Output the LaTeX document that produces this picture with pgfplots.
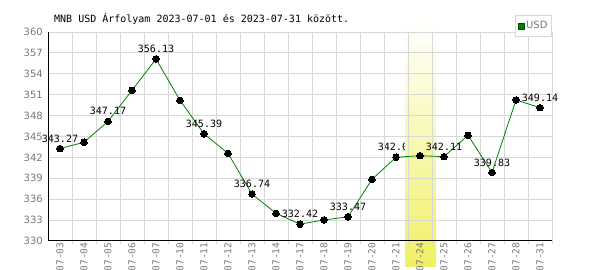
\documentclass[border=0pt]{standalone}
\usepackage{fontspec}
\setmainfont{DejaVu Sans}
\newfontfamily\mono{DejaVu Sans Mono}
\usepackage{pgfplots}
\pgfplotsset{compat=1.18}
\definecolor{gridc}{RGB}{216,216,216}
\definecolor{tickc}{RGB}{120,120,120}
\definecolor{lineg}{RGB}{0,128,0}
\definecolor{bandy}{RGB}{240,240,100}
\pgfplotsset{layers/mylayers/.define layer set={axis background,axis grid,axis ticks,mylabels,pre main,axis lines,axis tick labels,main,axis descriptions,axis foreground}{}}
\begin{document}
\begin{tikzpicture}
\begin{axis}[
  set layers=mylayers,
  at={(48bp,29bp)}, anchor=south west,
  scale only axis, width=504bp, height=209bp,
  xmin=-0.5, xmax=20.5, ymin=330, ymax=360,
  clip=false,
  axis lines=left, axis line style={-, black, line width=1bp},
  xtick={0,...,20},
  xticklabels={07-03,07-04,07-05,07-06,07-07,07-10,07-11,07-12,07-13,07-14,07-17,07-18,07-19,07-20,07-21,07-24,07-25,07-26,07-27,07-28,07-31},
  minor xtick={0.5,1.5,...,20.5},
  ytick={330,333,...,360},
  xmajorgrids=false, xminorgrids=true, ymajorgrids=true,
  grid style={gridc, line width=1bp},
  minor grid style={gridc, line width=1bp},
  major tick length=0pt, minor tick length=3bp, tick align=outside,
  minor tick style={gridc, line width=1bp},
  /pgf/number format/assume math mode=true,
  x tick label style={rotate=90, anchor=east, font=\mono\fontsize{9.5bp}{11bp}\selectfont, text=tickc, inner sep=1.5bp},
  y tick label style={font=\fontsize{10bp}{12bp}\selectfont, text=tickc, inner sep=0pt, xshift=-5bp},
  legend style={at={(1,1.081)}, anchor=north east, draw=gridc, line width=1bp, fill=white,
    font=\fontsize{10bp}{12bp}\selectfont, text=tickc, inner xsep=2bp, inner ysep=4bp},
  legend cell align=left,
  lab/.style={draw=none, forget plot, nodes near coords, point meta=explicit symbolic,
    nodes near coords style={font=\mono\fontsize{10bp}{12bp}\selectfont, text=black, anchor=base, yshift=6.5bp, inner sep=0pt}},
]
\addplot[forget plot, on layer=pre main, draw=none, top color=white, bottom color=bandy]
 coordinates {(14.375,326.27) (15.67,326.27) (15.67,361.58) (14.375,361.58)} -- cycle;
% label of 07-21 lies partly under the highlight band
\addplot[lab, on layer=mylabels, mark layer=mylabels]
 coordinates {
 (14,342.02) [342.02]
 };
\addplot[lab]
 coordinates {
 (0,343.27) [343.27]
 (2,347.17) [347.17]
 (4,356.13) [356.13]
 (6,345.39) [345.39]
 (8,336.74) [336.74]
 (10,332.42) [332.42]
 (12,333.47) [333.47]
 (16,342.11) [342.11]
 (18,339.83) [339.83]
 (20,349.14) [349.14]
 };
\addplot[forget plot, color=lineg, line width=0.8bp, mark=*, mark size=3.3bp, mark options={fill=black, draw=black, line width=0pt}]
 coordinates {
 (0,343.27) (1,344.17) (2,347.17) (3,351.63) (4,356.13) (5,350.19) (6,345.39)
 (7,342.58) (8,336.74) (9,333.97) (10,332.42) (11,333.02) (12,333.47) (13,338.85)
 (14,342.02) (15,342.25) (16,342.11) (17,345.17) (18,339.83) (19,350.24) (20,349.14)
 };
\addlegendimage{legend image code/.code={\draw[fill=lineg, draw=lineg!60!black, line width=0.5bp] (0bp,-3bp) rectangle (6bp,3bp);}}
\addlegendentry{USD}
\end{axis}
\node[anchor=base west, font=\mono\fontsize{10bp}{12bp}\selectfont, inner sep=0pt] at (54bp,247bp) {MNB USD Árfolyam 2023-07-01 és 2023-07-31 között.};
\pgfresetboundingbox
\useasboundingbox (0bp,0bp) rectangle (600bp,270bp);
\end{tikzpicture}
\end{document}
